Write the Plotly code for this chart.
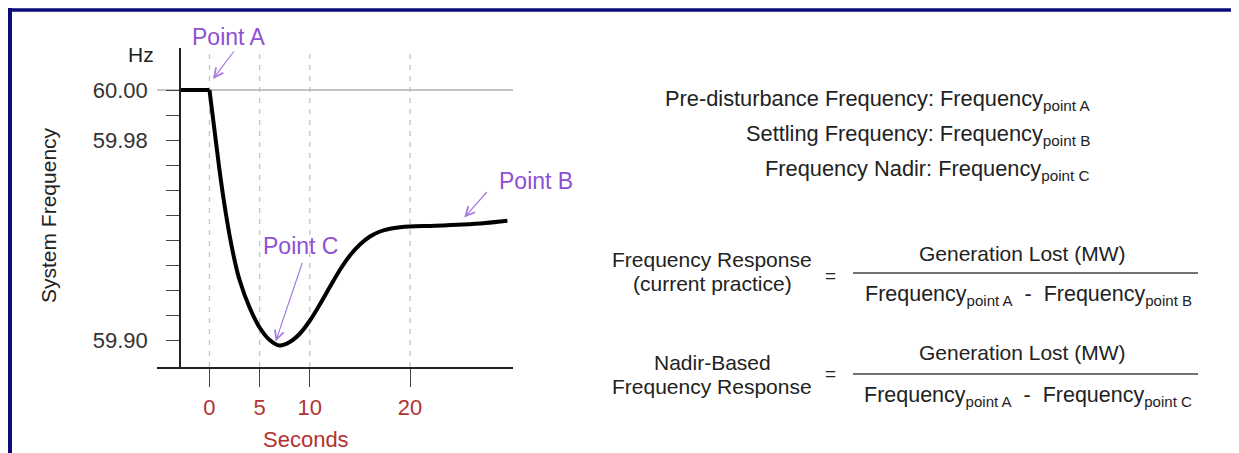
import plotly.graph_objects as go

W, H = 1239, 453
OFF = 8                      # the page adds an 8px body margin
FW, FH = W - OFF, H - OFF

# ---------------- data ----------------
time_s = [-3, 0, 0.5, 1.0, 1.5, 2.0, 2.5, 3.0, 4.0, 5.0, 6.0, 7.0, 8.0, 9.0, 10.0, 11.0, 12.0,
          13.0, 14.0, 15.0, 16.0, 17.0, 18.0, 19.0, 20.0, 22.5, 25.3, 27.5, 29.7]
freq_hz = [60.000, 60.000, 59.984, 59.968, 59.954, 59.942, 59.932, 59.924, 59.913, 59.905, 59.900,
           59.8978, 59.8992, 59.9025, 59.9077, 59.9142, 59.9212, 59.9280, 59.9338, 59.9382, 59.9414,
           59.9434, 59.9445, 59.9451, 59.9454, 59.9457, 59.9462, 59.9468, 59.9477]

x_tickvals = [0, 5, 10, 20]
x_ticktext = ["0", "5", "10", "20"]
y_tickvals = [60.00, 59.99, 59.98, 59.97, 59.96, 59.95, 59.94, 59.93, 59.92, 59.91, 59.90]
y_ticktext = ["60.00", "", "59.98", "", "", "", "", "", "", "", "59.90"]
guide_times = [0, 5, 10, 20]
reference_freq = 60.00

idx_a = 1        # pre-disturbance point
idx_c = 11       # nadir
idx_b = 26       # settling point

FONT = "Liberation Sans, Arial, sans-serif"
TXT = "#222222"
RED = "#b3322f"
PURPLE = "#8e50d4"
ARROW = "#a57ce0"
NAVY = "#0b0b78"


def px(x):
    return (x - OFF) / FW


def py(y):
    return 1 - (y - OFF) / FH


fig = go.Figure()

# flat pre-disturbance part and the frequency excursion
fig.add_trace(go.Scatter(x=time_s[:2], y=freq_hz[:2], mode="lines",
                         line=dict(color="black", width=4), hoverinfo="skip", showlegend=False))
fig.add_trace(go.Scatter(x=time_s[1:], y=freq_hz[1:], mode="lines",
                         line=dict(color="black", width=4, shape="spline", smoothing=1.0),
                         hoverinfo="skip", showlegend=False))

shapes = []
# vertical dashed guides
for t in guide_times:
    shapes.append(dict(type="line", xref="x", yref="y domain", x0=t, x1=t, y0=0, y1=1,
                       line=dict(color="#c4c4c4", width=1.3, dash="5px,6px"), layer="below"))
# horizontal reference line at 60 Hz
shapes.append(dict(type="line", xref="x domain", yref="y", x0=0, x1=1, y0=reference_freq, y1=reference_freq,
                   line=dict(color="#b0b0b0", width=1.3), layer="below"))
# fraction bars
for yb in (273, 374):
    shapes.append(dict(type="line", xref="paper", yref="paper", x0=px(853), x1=px(1198), y0=py(yb), y1=py(yb),
                       line=dict(color="#444444", width=1.5)))
# frame border (top and left)
shapes.append(dict(type="line", xref="paper", yref="paper", x0=px(8), x1=1, y0=py(10), y1=py(10),
                   line=dict(color=NAVY, width=3.5)))
shapes.append(dict(type="line", xref="paper", yref="paper", x0=px(10), x1=px(10), y0=py(8), y1=0,
                   line=dict(color=NAVY, width=4)))

ann = []


def ptext(x, y, text, size=21, color=TXT, xanchor="center", yanchor="middle", angle=0):
    ann.append(dict(x=px(x), y=py(y), xref="paper", yref="paper", text=text, showarrow=False,
                    xanchor=xanchor, yanchor=yanchor, textangle=angle,
                    font=dict(family=FONT, size=size, color=color)))


# axis titles
ptext(141, 55, "Hz", size=21)
ptext(48, 215, "System Frequency", size=21, angle=-90)
ptext(306, 439, "Seconds", size=22, color=RED)

# point labels
ptext(229, 37, "Point A", size=23, color=PURPLE)
ptext(300, 246, "Point C", size=23, color=PURPLE)
ptext(497, 181, "Point B", size=23, color=PURPLE, xanchor="left")


# arrows pointing at the points
def arrow(i, xs, ys, ax, ay):
    ann.append(dict(x=time_s[i], y=freq_hz[i], xref="x", yref="y", text="", showarrow=True,
                    xshift=xs, yshift=ys, ax=ax, ay=ay, arrowhead=5, arrowsize=1.5,
                    arrowwidth=1.2, arrowcolor=ARROW, standoff=0))


arrow(idx_a, 3.5, 11, 22, -29)
arrow(idx_c, -4, 4, 27, -80)
arrow(idx_b, 1, 7, 24, -27)

# definitions
defs = [("Pre-disturbance Frequency:", "A", 98),
        ("Settling Frequency:", "B", 133),
        ("Frequency Nadir:", "C", 168)]
for label, p, yy in defs:
    ptext(1092, yy + 2, label + " Frequency<sub>point " + p + "</sub>", size=21.8, xanchor="right")

# fractions
ptext(712, 259, "Frequency Response", size=21)
ptext(712, 283, "(current practice)", size=21)
ptext(712, 362, "Nadir-Based", size=21)
ptext(712, 386, "Frequency Response", size=21)
ptext(830, 275, "=", size=19)
ptext(830, 373, "=", size=19)
ptext(1022, 253, "Generation Lost (MW)", size=21)
ptext(1022, 352, "Generation Lost (MW)", size=21)
ptext(1028, 280, "Frequency<sub>point A</sub>  -  Frequency<sub>point B</sub>", size=21.5, yanchor="top")
ptext(1028, 381, "Frequency<sub>point A</sub>  -  Frequency<sub>point C</sub>", size=21.5, yanchor="top")

fig.update_layout(
    width=FW, height=FH, autosize=False,
    margin=dict(l=0, r=0, t=0, b=0),
    paper_bgcolor="white", plot_bgcolor="white",
    showlegend=False,
    shapes=shapes, annotations=ann,
    font=dict(family=FONT, color=TXT),
    xaxis=dict(domain=[px(157), px(513)], range=[-5.23, 30.26], anchor="y",
               showline=True, linecolor="#222222", linewidth=1.5,
               ticks="outside", ticklen=18, tickwidth=1.3, tickcolor="#444444",
               tickvals=x_tickvals, ticktext=x_ticktext,
               tickfont=dict(family=FONT, size=22, color=RED), ticklabelstandoff=2,
               showgrid=False, zeroline=False, fixedrange=True),
    yaxis=dict(domain=[py(367), py(48)], range=[59.8892, 60.0168], anchor="free", position=px(180),
               showline=True, linecolor="#222222", linewidth=1.5,
               ticks="outside", ticklen=13, tickwidth=1.3, tickcolor="#444444",
               tickvals=y_tickvals, ticktext=y_ticktext,
               tickfont=dict(family=FONT, size=22, color="#333333"), ticklabelstandoff=14,
               showgrid=False, zeroline=False, fixedrange=True),
)

fig.write_html("out.html")
